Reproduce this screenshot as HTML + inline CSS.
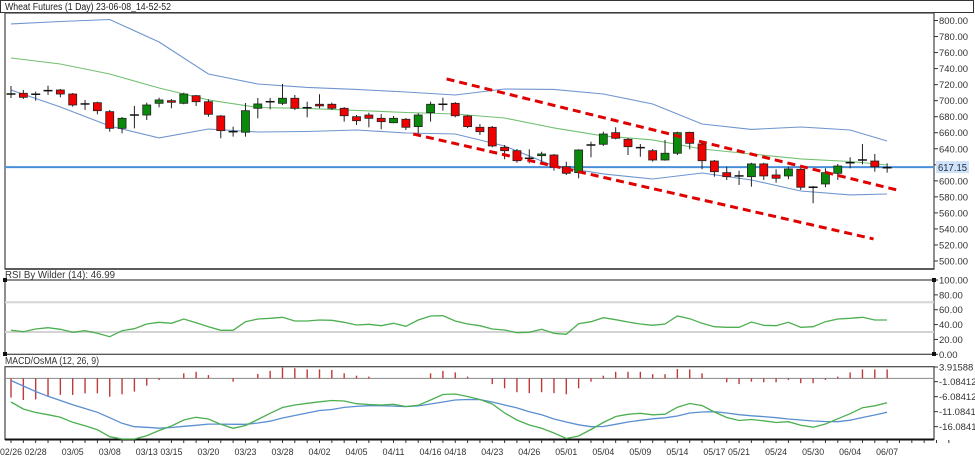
<!DOCTYPE html>
<html><head><meta charset="utf-8">
<style>
html,body{margin:0;padding:0;background:#fff;}
svg{display:block;font-family:"Liberation Sans",sans-serif;}
</style></head>
<body>
<svg id="chart" width="975" height="472" viewBox="0 0 975 472" xmlns="http://www.w3.org/2000/svg">
  <rect x="0" y="0" width="975" height="472" fill="#fff"/>
  <rect x="0.5" y="0.5" width="973" height="12" fill="#fff" stroke="#333"/>
  <text x="5" y="10" font-size="10" fill="#222" textLength="166" lengthAdjust="spacingAndGlyphs">Wheat Futures (1 Day) 23-06-08_14-52-52</text>
  <rect x="5" y="13" width="929" height="256" fill="none" stroke="#444" stroke-width="1.2"/>
  <line x1="5" y1="269" x2="934" y2="269" stroke="#333" stroke-width="1.5"/>
  <text x="5" y="278" font-size="10" fill="#333" textLength="110" lengthAdjust="spacingAndGlyphs">RSI By Wilder (14): 46.99</text>
  <rect x="5" y="280" width="929" height="74.3" fill="none" stroke="#444" stroke-width="1.2"/>
  <text x="5" y="364" font-size="10" fill="#333" textLength="94" lengthAdjust="spacingAndGlyphs">MACD/OsMA (12, 26, 9)</text>
  <rect x="5" y="366.7" width="929" height="72.6" fill="none" stroke="#444" stroke-width="1.2"/>
  <line x1="5" y1="439.5" x2="934" y2="439.5" stroke="#111" stroke-width="2"/>
  <g id="gPrice"></g><g id="gRsi"></g><g id="gMacd"></g><g id="gAxes"></g>
</svg>
<script>
// ---- price data (OHLC) ----
const opens  = [708.3,709.2,708,712.5,713.3,708.3,695.9,697.5,686.3,665.5,682.1,682.1,696.7,700,696.7,706.2,698.7,680.9,661.3,660.6,690.5,698.7,696.7,703,691.2,695.5,695.5,690.5,680,682.1,678,672.5,676.8,667.6,685,695.5,696.7,680.9,666.8,666.8,641.8,637.6,628.1,631.4,632.2,617.6,610.2,644.7,645.6,660.1,651.8,641.4,637.6,626,634.4,660.5,646,624.7,610.2,606.1,605.2,621.1,607.3,606.1,614.4,592,596.1,609.4,622.6,626,624.7,616.4];
const closes = [708.3,704.2,708,712.5,708.3,694.6,695.9,687.5,665.5,678,682.1,694.6,700.9,698,708.3,698.7,683,662.6,661.3,687.5,695.9,698.7,703,690.5,691.2,693.4,690.5,681.2,675,678,673.8,678,666.8,682.1,695.5,695.5,681.2,667.6,661.3,643.5,637.6,625.1,628.1,633.5,616.9,609.4,638.5,644.7,658.4,653.1,642.6,641.4,626,634.4,660.1,646.8,625.1,611.4,605.2,606.1,621.1,606.1,603.2,614.8,592,592,610.2,618.5,622.6,626,617.6,616.4];
const highs  = [718.3,713.3,711.2,718.7,714.6,709.6,700.9,698.7,688.4,679.7,693.4,697.5,703.7,702.1,710,707.1,701.7,682.1,667.6,697.1,703.4,703.4,720.8,707.1,698.7,708,697.5,692.1,682.1,685,683.4,680.9,678.4,684.3,698.7,703.7,698.3,682.1,670.9,668.4,644.7,639.7,639.3,636.3,633.5,623.9,639.3,648.8,661.3,666.8,653.5,646,639.7,650.9,661.3,661.3,648.8,626,617.6,612.6,622.6,622.6,614.4,617.6,616,593.6,615.6,621,629.4,646,633.5,621.9];
const lows   = [703.4,702.1,700,707.1,704.2,692.5,688.4,683,661.3,659.3,665.5,675.9,691.7,690.5,695.5,693.4,680,653.1,655.1,655.1,678,689.2,694.6,688.4,679.2,690.5,688.4,673.8,669.7,666.8,664.3,671.8,663.4,659.3,673.8,687.5,679.2,665.9,657.2,641.8,626.9,622.6,621.9,621.9,612.7,607.3,603.2,629.4,643.5,651.8,632.2,630.1,623.9,625.1,632.2,639.3,614.4,605.2,601.1,594.8,592.7,601.1,597.7,602,588.6,572,592,601.1,615.6,620.6,611.4,610.2];
// ---- Bollinger bands (sampled at candle indices) ----
const bandIdx   = [0,4,8,12,16,20,24,28,32,36,40,44,48,52,56,60,64,68,71];
const bandUpper = [795.7,798.8,801.3,773.2,733.3,720.8,716.5,714,710.8,707.1,714.6,714,708.3,695.9,670.9,664.1,667.2,663.4,649.7];
const bandMid   = [753.2,745.8,733.3,715.8,700.9,691.5,690.3,687.8,685.3,683.4,678.4,666,656,651,639.7,633.5,627.3,624.1,619.8];
const bandLower = [713.3,692.1,668.4,653.5,664.7,660.9,661.6,663.4,659.7,658.4,643.5,618.5,608.6,602.3,609.8,601.1,587.3,582.4,583.6];
// ---- trend channel (index, price) ----
const trendUpper = [[35.3,727.1],[71.8,588.6]];
const trendLower = [[32.6,658.4],[69.9,527.5]];
const lastPrice = 617.15;
// ---- RSI ----
const rsiValues = [32.3,30.4,34.1,35.8,33.6,29.6,31.8,28.3,23.7,31.8,34.5,40.8,43.1,41.7,47.5,42.5,37.1,32.3,32.3,43.9,47.5,48.5,49.8,44.8,44.8,46.2,45.8,43.1,39.4,40.4,38.5,41.7,37.7,46.2,51.5,52,44.8,40.8,38.5,34.1,32.7,29.1,29.6,33.6,28.3,26.9,41.2,43.9,49.3,46.6,43.5,40.8,39,40.8,51.5,47.9,41.7,37.1,36.3,36.3,43.5,39,38.5,43.1,36.3,37.1,43.9,47.5,48.5,49.8,46.2,46.2];
// ---- MACD ----
const osmaValues = [-6.4,-7.2,-7.0,-6.1,-5.5,-5.5,-5.0,-5.0,-6.1,-5.3,-4.4,-2.4,-0.5,0.1,1.7,2.2,1.1,0,-1.1,0,1.5,2.5,3.6,3.4,3.0,3.0,2.8,1.7,0.9,0.6,0,0,0,0,1.7,2.5,2.0,0.6,0,-1.9,-3.3,-4.6,-4.9,-4.6,-4.9,-5.3,-3.3,-1.1,0.9,2.2,2.2,2.2,1.4,1.4,3.1,3.0,1.7,0,-1.3,-1.9,-1.1,-1.3,-1.3,-0.5,-1.6,-1.6,-0.5,0.6,2.0,3.0,3.0,3.0];
const macdValues = [-7.87,-10.2,-11.37,-12.1,-12.97,-14.63,-15.77,-17.1,-19.43,-20.53,-20.2,-19.1,-17.37,-15.87,-13.87,-12.97,-13.53,-15.3,-16.63,-15.7,-13.7,-11.63,-9.7,-8.87,-8.3,-7.8,-7.37,-7.53,-8.43,-8.7,-8.87,-8.63,-9.37,-8.97,-7.2,-5.37,-5.2,-6.03,-7.03,-8.53,-11.53,-13.87,-15.53,-16.63,-18.2,-20.03,-19.2,-17.03,-14.7,-12.7,-11.97,-11.63,-12.13,-11.93,-9.6,-8.37,-9.03,-11.2,-13.03,-14.03,-13.7,-14.13,-14.7,-14.43,-15.63,-16.27,-15.2,-13.47,-11.77,-9.77,-9.13,-8.13];
const signalValues = [-0.7,-2.53,-4.37,-5.97,-7.37,-8.77,-10.03,-11.3,-13.1,-14.97,-16.1,-16.3,-16.6,-16.37,-15.97,-15.63,-15.23,-15.23,-15.3,-15.3,-14.87,-14.27,-13.2,-12.37,-11.53,-10.7,-10.37,-9.67,-9.33,-9.1,-9.1,-9.23,-9.4,-9.17,-8.53,-7.87,-7.2,-7.03,-7.07,-7.87,-8.87,-9.83,-11.1,-12.13,-13.53,-14.53,-15.47,-16.1,-16.03,-15.3,-14.53,-13.97,-13.47,-13.13,-12.53,-11.53,-11.2,-11.1,-11.53,-12.1,-12.47,-12.73,-13.1,-13.53,-13.87,-14.2,-14.37,-14.43,-13.93,-13.03,-12.2,-11.3];
// ---- axis labels ----
const priceTicks = [800,780,760,740,720,700,680,660,640,620,600,580,560,540,520,500];
const rsiTicks = [100,80,60,40,20,0];
const macdTicks = ["3.91588","-1.08412","-6.08412","-11.08412","-16.08412"];
const dateLabels = ["02/26","02/28","03/05","03/08","03/13","03/15","03/20","03/23","03/28","04/02","04/05","04/11","04/16","04/18","04/23","04/26","05/01","05/04","05/09","05/14","05/17","05/21","05/24","05/30","06/04","06/07"];
const dateIdx = [0,2,5,8,11,13,16,19,22,25,28,31,34,36,39,42,45,48,51,54,57,59,62,65,68,71];

const NS = "http://www.w3.org/2000/svg";
function px(i){ return 11 + 12.34*i; }
function py(p){ return 20.5 + (800-p)*240.5/300; }
function ry(v){ return 354.3 - v*0.743; }
function my(v){ return Math.max(367, Math.min(439, 378.4 - 3*v)); }
function mk(parent, tag, attrs){
  const e = document.createElementNS(NS, tag);
  for (const k in attrs) e.setAttribute(k, attrs[k]);
  parent.appendChild(e);
  return e;
}
const gP = document.getElementById('gPrice');
const gR = document.getElementById('gRsi');
const gM = document.getElementById('gMacd');
const gA = document.getElementById('gAxes');

// bands
function bandPath(vals){ return vals.map((v,k)=>(k?'L':'M')+px(bandIdx[k]).toFixed(1)+','+py(v).toFixed(1)).join(''); }
let e;
e = mk(gP,'path',{d:bandPath(bandUpper),fill:'none',stroke:'#6f95cf','stroke-width':1.1});


e = mk(gP,'path',{d:bandPath(bandMid),fill:'none',stroke:'#72c172','stroke-width':1.1});


e = mk(gP,'path',{d:bandPath(bandLower),fill:'none',stroke:'#6f95cf','stroke-width':1.1});



// last price line
e = mk(gP,'line',{x1:5,x2:934,y1:py(lastPrice),y2:py(lastPrice),stroke:'#4a90d9','stroke-width':2});



// candles
for (let i=0;i<opens.length;i++){
  const x = px(i);
  const g = mk(gP,'g',{});
  
  
  mk(g,'line',{x1:x,x2:x,y1:py(highs[i]),y2:py(lows[i]),stroke:'#222','stroke-width':1});
  const o=opens[i], c=closes[i];
  if (o===c){
    mk(g,'line',{x1:x-4.5,x2:x+4.5,y1:py(o),y2:py(o),stroke:'#111','stroke-width':1.5});
  } else {
    const top = py(Math.max(o,c)), bot = py(Math.min(o,c));
    mk(g,'rect',{x:x-4,y:top,width:8,height:Math.max(1.5,bot-top),fill:c>o?'#0a8a0a':'#f00000',stroke:'#222','stroke-width':0.8});
  }
}

// trend channel
e = mk(gP,'line',{x1:px(trendUpper[0][0]),y1:py(trendUpper[0][1]),x2:px(trendUpper[1][0]),y2:py(trendUpper[1][1]),stroke:'#e00000','stroke-width':3,'stroke-dasharray':'8 5'});


e = mk(gP,'line',{x1:px(trendLower[0][0]),y1:py(trendLower[0][1]),x2:px(trendLower[1][0]),y2:py(trendLower[1][1]),stroke:'#e00000','stroke-width':3,'stroke-dasharray':'8 5'});



// price axis
for (const t of priceTicks){
  const y = py(t);
  e = mk(gA,'line',{x1:934,x2:938,y1:y,y2:y,stroke:'#333','stroke-width':1});
  
  
  e = mk(gA,'text',{x:939,y:y+3.5,'font-size':9.5,fill:'#333',textLength:29,lengthAdjust:'spacingAndGlyphs'});
  e.textContent = t.toFixed(2);
  
  
}
e = mk(gA,'rect',{x:936,y:py(lastPrice)-6,width:33,height:12,fill:'#cfe2f6'});


e = mk(gA,'text',{x:938,y:py(lastPrice)+4,'font-size':10,fill:'#1a2a4a',textLength:29,lengthAdjust:'spacingAndGlyphs'});
e.textContent = lastPrice.toFixed(2);



// RSI
for (const lv of [70,30]){
  e = mk(gR,'line',{x1:5,x2:934,y1:ry(lv),y2:ry(lv),stroke:'#d4d4d4','stroke-width':2});
  
  
}
e = mk(gR,'path',{d:rsiValues.map((v,i)=>(i?'L':'M')+px(i).toFixed(1)+','+ry(v).toFixed(1)).join(''),fill:'none',stroke:'#4caf50','stroke-width':1.3});


for (const t of rsiTicks){
  const y = ry(t);
  e = mk(gA,'line',{x1:934,x2:938,y1:y,y2:y,stroke:'#333','stroke-width':1});
  
  
  e = mk(gA,'text',{x:939,y:y+3.5,'font-size':9.5,fill:'#333'});
  e.textContent = t.toFixed(2);
  
  
}
for (const [cx,cy] of [[5,280],[5,354],[934,280],[934,354]]){
  e = mk(gA,'rect',{x:cx-2,y:cy-2,width:4,height:4,fill:'#111'});
  
  
}

// MACD
e = mk(gM,'line',{x1:5,x2:934,y1:my(0),y2:my(0),stroke:'#888','stroke-width':1});


for (let i=0;i<osmaValues.length;i++){
  if (osmaValues[i]===0) continue;
  e = mk(gM,'line',{x1:px(i),x2:px(i),y1:my(0),y2:my(osmaValues[i]),stroke:'#c0393b','stroke-width':1.4});
  
  
}
e = mk(gM,'path',{d:signalValues.map((v,i)=>(i?'L':'M')+px(i).toFixed(1)+','+my(v).toFixed(1)).join(''),fill:'none',stroke:'#5a8fd0','stroke-width':1.3});


e = mk(gM,'path',{d:macdValues.map((v,i)=>(i?'L':'M')+px(i).toFixed(1)+','+my(v).toFixed(1)).join(''),fill:'none',stroke:'#4caf50','stroke-width':1.3});


for (const t of macdTicks){
  const y = my(parseFloat(t));
  e = mk(gA,'line',{x1:934,x2:938,y1:y,y2:y,stroke:'#333','stroke-width':1});
  
  
  e = mk(gA,'text',{x:939,y:y+3.5,'font-size':9.5,fill:'#333'});
  e.textContent = t;
  
  
}

// date axis
for (let i=0;i<77;i++){
  e = mk(gA,'line',{x1:px(i),x2:px(i),y1:440,y2:443,stroke:'#333','stroke-width':1});
  
  
}
for (let k=0;k<dateLabels.length;k++){
  e = mk(gA,'text',{x:px(dateIdx[k]),y:455,'font-size':9,fill:'#333','text-anchor':'middle',textLength:22,lengthAdjust:'spacingAndGlyphs'});
  e.textContent = dateLabels[k];
  
  
}
</script>
</body></html>
